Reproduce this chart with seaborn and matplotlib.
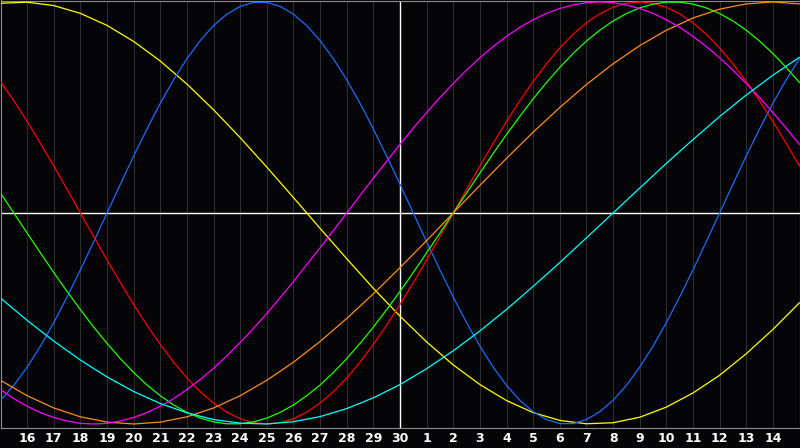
import matplotlib
matplotlib.use("Agg")
import pandas as pd
import matplotlib.pyplot as plt
import seaborn as sns

# days relative to today (0 = the 30th)
day_offset = list(range(-15, 16))
half_offset = [d / 2 for d in range(-30, 31)]
tick_offset = list(range(-14, 15))
tick_labels = [str(d) for d in range(16, 31)] + [str(d) for d in range(1, 15)]

# fast curves read every half day, slow ones every day
blue = [-0.888, -0.817, -0.731, -0.631, -0.520, -0.398, -0.270, -0.136, 0.000, 0.136,
        0.270, 0.398, 0.520, 0.631, 0.731, 0.817, 0.888, 0.942, 0.979, 0.998, 0.998,
        0.979, 0.942, 0.888, 0.817, 0.731, 0.631, 0.520, 0.398, 0.270, 0.136, 0.000,
        -0.136, -0.270, -0.398, -0.520, -0.631, -0.731, -0.817, -0.888, -0.942, -0.979,
        -0.998, -0.998, -0.979, -0.942, -0.888, -0.817, -0.731, -0.631, -0.520, -0.398,
        -0.270, -0.136, 0.000, 0.136, 0.270, 0.398, 0.520, 0.631, 0.731]
red = [0.623, 0.532, 0.434, 0.330, 0.223, 0.112, 0.000, -0.112, -0.223, -0.330, -0.434,
       -0.532, -0.623, -0.707, -0.782, -0.847, -0.901, -0.944, -0.975, -0.994, -1.000,
       -0.994, -0.975, -0.944, -0.901, -0.847, -0.782, -0.707, -0.623, -0.532, -0.434,
       -0.330, -0.223, -0.112, 0.000, 0.112, 0.223, 0.330, 0.434, 0.532, 0.623, 0.707,
       0.782, 0.847, 0.901, 0.944, 0.975, 0.994, 1.000, 0.994, 0.975, 0.944, 0.901,
       0.847, 0.782, 0.707, 0.623, 0.532, 0.434, 0.330, 0.223]
green = [0.095, 0.000, -0.095, -0.189, -0.282, -0.372, -0.458, -0.541, -0.618, -0.690,
         -0.756, -0.815, -0.866, -0.910, -0.945, -0.972, -0.990, -0.999, -0.999, -0.990,
         -0.972, -0.945, -0.910, -0.866, -0.815, -0.756, -0.690, -0.618, -0.541, -0.458,
         -0.372, -0.282, -0.189, -0.095, 0.000, 0.095, 0.189, 0.282, 0.372, 0.458, 0.541,
         0.618, 0.690, 0.756, 0.815, 0.866, 0.910, 0.945, 0.972, 0.990, 0.999, 0.999,
         0.990, 0.972, 0.945, 0.910, 0.866, 0.815, 0.756, 0.690, 0.618]
magenta = [-0.837, -0.880, -0.916, -0.946, -0.969, -0.986, -0.997, -1.000, -0.997, -0.986,
           -0.969, -0.946, -0.916, -0.880, -0.837, -0.789, -0.736, -0.677, -0.614, -0.547,
           -0.476, -0.402, -0.325, -0.245, -0.165, -0.083, 0.000, 0.083, 0.165, 0.245,
           0.325, 0.402, 0.476, 0.547, 0.614, 0.677, 0.736, 0.789, 0.837, 0.880, 0.916,
           0.946, 0.969, 0.986, 0.997, 1.000, 0.997, 0.986, 0.969, 0.946, 0.916, 0.880,
           0.837, 0.789, 0.736, 0.677, 0.614, 0.547, 0.476, 0.402, 0.325]
yellow = [0.994, 0.999, 0.983, 0.946, 0.889, 0.813, 0.720, 0.611, 0.489, 0.357, 0.217,
          0.073, -0.073, -0.217, -0.357, -0.489, -0.611, -0.720, -0.813, -0.889, -0.946,
          -0.983, -0.999, -0.994, -0.968, -0.920, -0.853, -0.769, -0.667, -0.552, -0.425]
orange = [-0.793, -0.866, -0.924, -0.966, -0.991, -1.000, -0.991, -0.966, -0.924, -0.866,
          -0.793, -0.707, -0.609, -0.500, -0.383, -0.259, -0.131, 0.000, 0.131, 0.259,
          0.383, 0.500, 0.609, 0.707, 0.793, 0.866, 0.924, 0.966, 0.991, 1.000, 0.991]
cyan = [-0.403, -0.509, -0.607, -0.697, -0.777, -0.846, -0.903, -0.947, -0.979, -0.996,
        -1.000, -0.989, -0.965, -0.927, -0.876, -0.813, -0.738, -0.653, -0.559, -0.457,
        -0.348, -0.235, -0.118, 0.000, 0.118, 0.235, 0.348, 0.457, 0.559, 0.653, 0.738]

series = {'yellow': (day_offset, yellow), 'blue': (half_offset, blue),
          'red': (half_offset, red), 'green': (half_offset, green),
          'orange': (day_offset, orange), 'magenta': (half_offset, magenta),
          'cyan': (day_offset, cyan)}
palette = {'yellow': '#ffff00', 'blue': '#1a6cff', 'red': '#ff0000', 'green': '#22ff00',
           'orange': '#ff8c1a', 'magenta': '#ff00ff', 'cyan': '#00ffff'}

rows = []
for name, (days, vals) in series.items():
    for d, v in zip(days, vals):
        rows.append({'day': d, 'value': v, 'rhythm': name})
df = pd.DataFrame(rows)

BG = '#050508'
sns.set_theme(style="dark")
plt.rcParams['font.family'] = ['DejaVu Sans']

fig = plt.figure(figsize=(8, 4.48), dpi=100, facecolor=BG)
ax = fig.add_axes([0.5 / 800, 20 / 448, 799 / 800, 427.5 / 448])
ax.set_facecolor(BG)

for d in tick_offset:
    ax.axvline(d, color='#2e2e2e', lw=0.75, zorder=1)
ax.axvline(0, color='white', lw=1.0, zorder=2)
ax.axhline(0, color='white', lw=1.0, zorder=2)

sns.lineplot(data=df, x='day', y='value', hue='rhythm', hue_order=list(series),
             palette=palette, estimator=None, sort=False, lw=0.9, legend=False,
             ax=ax, zorder=3)

ax.set_xlim(-15, 15)
ax.set_ylim(-1.019, 1.007)
ax.set_xticks(tick_offset)
ax.set_xticklabels(tick_labels, color='white', fontweight='bold', fontsize=9)
ax.set_yticks([])
ax.tick_params(axis='x', length=0, pad=3)
ax.set_xlabel('')
ax.set_ylabel('')
ax.grid(False)
for s in ax.spines.values():
    s.set_color('#8c8c8c')
    s.set_linewidth(0.8)

fig.savefig('out.png', dpi=100, facecolor=BG)
plt.close(fig)
